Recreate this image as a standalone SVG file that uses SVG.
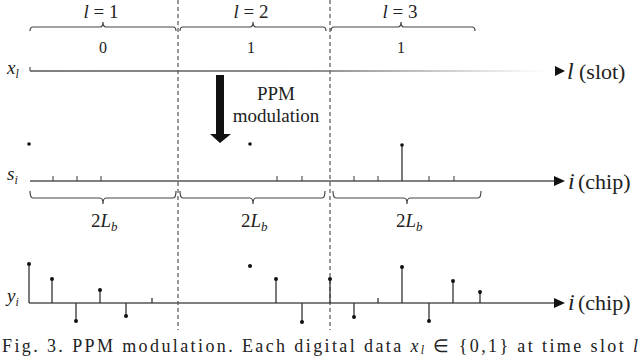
<svg xmlns="http://www.w3.org/2000/svg" width="640" height="358" viewBox="0 0 640 358" font-family="'Liberation Serif','Times New Roman',Times,serif">
<style>
.ax{stroke:#555;stroke-width:1.5;fill:none}
.br{stroke:#444;stroke-width:1.2;fill:none}
.st{stroke:#333;stroke-width:1.3}
.tk{stroke:#444;stroke-width:1.1}
.dot{fill:#111}
.dash{stroke:#333;stroke-width:1;stroke-dasharray:4,3}
text{font-family:'Liberation Serif','Times New Roman',Times,serif;fill:#222}
.m{font-style:italic}
.ah{fill:#111}
</style>
<defs>
<linearGradient id="fade" x1="30" y1="0" x2="545" y2="0" gradientUnits="userSpaceOnUse">
<stop offset="0" stop-color="#555"/><stop offset="0.55" stop-color="#666"/><stop offset="1" stop-color="#fff"/>
</linearGradient>
</defs>
<rect width="640" height="358" fill="#fff"/>

<g id="slot-dividers">
<line class="dash" x1="178" y1="0" x2="178" y2="330"/>
<line class="dash" x1="330" y1="0" x2="330" y2="330"/>
</g>

<g id="slot-labels">
<text class="m" x="101" y="18" font-size="19" text-anchor="middle">l <tspan font-style="normal">= 1</tspan></text>
<text class="m" x="251" y="18" font-size="19" text-anchor="middle">l <tspan font-style="normal">= 2</tspan></text>
<text class="m" x="400" y="18" font-size="19" text-anchor="middle">l <tspan font-style="normal">= 3</tspan></text>
</g>

<g id="top-braces">
<path class="br" d="M30,31 Q30,27 33,27 L100,27 Q103,27 103,22 Q103,27 106,27 L173,27 Q176,27 176,31"/>
<path class="br" d="M180,31 Q180,27 183,27 L250,27 Q253,27 253,22 Q253,27 256,27 L323,27 Q326,27 326,31"/>
<path class="br" d="M331,31 Q331,27 334,27 L398,27 Q401,27 401,22 Q401,27 404,27 L472,27 Q475,27 475,31"/>
</g>

<g id="bits">
<text x="103" y="53" font-size="16" text-anchor="middle">0</text>
<text x="251" y="53" font-size="16" text-anchor="middle">1</text>
<text x="401" y="53" font-size="16" text-anchor="middle">1</text>
</g>

<g id="x-axis">
<text class="m" x="7" y="74" font-size="19">x<tspan font-size="12" dy="4">l</tspan></text>
<line x1="30" y1="67" x2="30" y2="71" class="tk"/>
<line x1="30" y1="71" x2="548" y2="71" stroke="url(#fade)" stroke-width="1.5"/>
<path class="ah" d="M555,66 L565,71 L555,76 Z"/>
<text class="m" x="567" y="79" font-size="24">l</text>
<text x="579" y="79" font-size="22">(slot)</text>
</g>

<g id="modulation">
<path class="ah" d="M216,75 L224,75 L224,134 L231,134 L220,143 L210,134 L216,134 Z"/>
<text x="276" y="100" font-size="19" text-anchor="middle">PPM</text>
<text x="276" y="122" font-size="19" text-anchor="middle">modulation</text>
</g>

<g id="s-axis">
<text class="m" x="7" y="180" font-size="19">s<tspan font-size="12" dy="4">i</tspan></text>
<line class="ax" x1="30" y1="181" x2="556" y2="181"/>
<path class="ah" d="M554,176 L565,181 L554,186 Z"/>
<text class="m" x="568" y="189" font-size="24">i</text>
<text x="578" y="189" font-size="22">(chip)</text>
<line class="tk" x1="53" y1="176" x2="53" y2="181"/>
<line class="tk" x1="77" y1="176" x2="77" y2="181"/>
<line class="tk" x1="101" y1="176" x2="101" y2="181"/>
<line class="tk" x1="277" y1="176" x2="277" y2="181"/>
<line class="tk" x1="302" y1="176" x2="302" y2="181"/>
<line class="tk" x1="354" y1="176" x2="354" y2="181"/>
<line class="tk" x1="378" y1="176" x2="378" y2="181"/>
<line class="tk" x1="429" y1="176" x2="429" y2="181"/>
<line class="tk" x1="454" y1="176" x2="454" y2="181"/>
<line class="st" x1="402" y1="145" x2="402" y2="181"/>
<circle class="dot" cx="29" cy="144" r="1.8"/>
<circle class="dot" cx="250" cy="144" r="1.8"/>
<circle class="dot" cx="402" cy="145" r="1.8"/>
</g>

<g id="chip-braces">
<path class="br" d="M30,191 Q30,198 33,198 L100,198 Q103,198 103,204 Q103,198 106,198 L173,198 Q176,198 176,191"/>
<path class="br" d="M180,191 Q180,198 183,198 L250,198 Q253,198 253,204 Q253,198 256,198 L322,198 Q325,198 325,191"/>
<path class="br" d="M333,191 Q333,198 336,198 L404,198 Q407,198 407,204 Q407,198 410,198 L478,198 Q481,198 481,191"/>
<text x="91" y="227" font-size="19">2<tspan class="m">L</tspan><tspan class="m" font-size="13" dy="4">b</tspan></text>
<text x="241" y="227" font-size="19">2<tspan class="m">L</tspan><tspan class="m" font-size="13" dy="4">b</tspan></text>
<text x="396" y="227" font-size="19">2<tspan class="m">L</tspan><tspan class="m" font-size="13" dy="4">b</tspan></text>
</g>

<g id="y-axis">
<text class="m" x="7" y="302" font-size="19">y<tspan font-size="12" dy="4">i</tspan></text>
<line class="ax" x1="29" y1="303" x2="556" y2="303"/>
<path class="ah" d="M554,298 L565,303 L554,308 Z"/>
<text class="m" x="568" y="310" font-size="24">i</text>
<text x="578" y="310" font-size="22">(chip)</text>
<g class="st">
<line x1="29" y1="264" x2="29" y2="303"/>
<line x1="52" y1="279" x2="52" y2="303"/>
<line x1="76" y1="303" x2="76" y2="321"/>
<line x1="100" y1="290" x2="100" y2="303"/>
<line x1="126" y1="303" x2="126" y2="316"/>
<line x1="152" y1="298" x2="152" y2="303"/>
<line x1="276" y1="279" x2="276" y2="303"/>
<line x1="302" y1="303" x2="302" y2="322"/>
<line x1="330" y1="279" x2="330" y2="303"/>
<line x1="354" y1="303" x2="354" y2="317"/>
<line x1="378" y1="298" x2="378" y2="303"/>
<line x1="402" y1="267" x2="402" y2="303"/>
<line x1="429" y1="303" x2="429" y2="321"/>
<line x1="453" y1="281" x2="453" y2="303"/>
<line x1="480" y1="292" x2="480" y2="303"/>
</g>
<circle class="dot" cx="29" cy="264" r="2"/>
<circle class="dot" cx="52" cy="279" r="2"/>
<circle class="dot" cx="76" cy="321" r="2"/>
<circle class="dot" cx="100" cy="290" r="2"/>
<circle class="dot" cx="126" cy="316" r="2"/>
<circle class="dot" cx="250" cy="266" r="2"/>
<circle class="dot" cx="276" cy="279" r="2"/>
<circle class="dot" cx="302" cy="322" r="2"/>
<circle class="dot" cx="330" cy="279" r="2"/>
<circle class="dot" cx="354" cy="317" r="2"/>
<circle class="dot" cx="402" cy="267" r="2"/>
<circle class="dot" cx="429" cy="321" r="2"/>
<circle class="dot" cx="453" cy="281" r="2"/>
<circle class="dot" cx="480" cy="292" r="2"/>
</g>

<g id="caption">
<text x="2" y="352" font-size="18" textLength="636" lengthAdjust="spacing">Fig. 3. PPM modulation. Each digital data <tspan class="m">x</tspan><tspan class="m" font-size="12" dy="2">l</tspan><tspan dy="-2"> ∈ {0,1} at time slot </tspan><tspan class="m">l</tspan></text>
</g>
</svg>
